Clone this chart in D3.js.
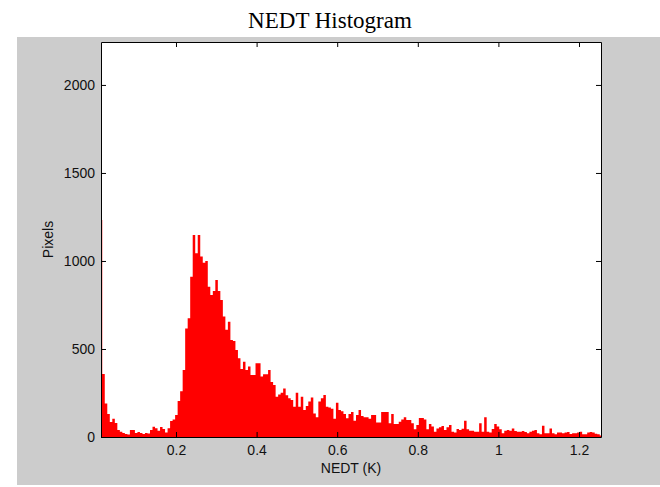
<!DOCTYPE html>
<html>
<head>
<meta charset="utf-8">
<script src="https://cdn.jsdelivr.net/npm/d3@7"></script>
<style>
	body { margin: 0; background: #fff; }
	svg { display: block; }
	.tick text { font-family: "Liberation Sans", Arial, sans-serif; font-size: 14px; fill: #111; }
	.domain { stroke: #000; }
	.tick line { stroke: #000; }
</style>
</head>
<body>
<svg width="660" height="487"></svg>
<script>
// histogram of NEDT values, 200 bins, centres go from X_MIN to X_MAX
const X_MIN = 0.0139;
const X_MAX = 1.2546;
const Y_MAX = 2244;

const counts = [
	1233, 358, 190, 130, 85, 104, 80, 40, 30, 23,
	17, 14, 40, 40, 23, 28, 23, 17, 23, 20,
	40, 58, 50, 35, 57, 45, 25, 50, 91, 100,
	125, 204, 260, 380, 617, 674, 910, 1148, 1044, 1148,
	1025, 990, 1000, 854, 807, 830, 892, 830, 778, 684,
	610, 655, 551, 545, 494, 447, 386, 428, 380, 400,
	352, 352, 419, 419, 343, 356, 356, 381, 313, 295,
	229, 242, 252, 276, 237, 220, 210, 172, 252, 172,
	229, 153, 176, 201, 225, 134, 112, 201, 220, 239,
	172, 167, 161, 104, 195, 153, 146, 131, 106, 131,
	142, 93, 125, 153, 119, 112, 112, 104, 125, 125,
	83, 83, 142, 142, 142, 78, 131, 74, 74, 87,
	100, 112, 97, 97, 78, 44, 68, 108, 108, 100,
	44, 74, 59, 30, 49, 55, 63, 40, 55, 68,
	30, 25, 45, 40, 47, 93, 44, 36, 36, 30,
	30, 78, 30, 112, 30, 25, 45, 74, 60, 44,
	21, 36, 40, 36, 49, 34, 30, 30, 34, 28,
	21, 30, 36, 40, 21, 15, 64, 21, 21, 49,
	21, 15, 25, 25, 21, 25, 28, 17, 21, 21,
	25, 30, 15, 15, 25, 28, 25, 19, 15, 9
];

const xTicks = [0.2, 0.4, 0.6, 0.8, 1, 1.2];
const yTicks = [0, 500, 1000, 1500, 2000];

const title = "NEDT Histogram";
const xLabel = "NEDT (K)";
const yLabel = "Pixels";

var svg = d3.select("svg");
var margin = { left: 101, right: 59, top: 42, bottom: 50 };
var width = +svg.attr("width") - margin.left - margin.right;
var height = +svg.attr("height") - margin.top - margin.bottom;

// figure background
svg.append("rect")
	.attr("x", 17)
	.attr("y", 37)
	.attr("width", 660 - 17)
	.attr("height", 485 - 37)
	.attr("fill", "#cccccc");

svg.append("text")
	.attr("x", 330)
	.attr("y", 28)
	.attr("text-anchor", "middle")
	.style("font-family", "'Liberation Serif', 'Times New Roman', serif")
	.style("font-size", "23px")
	.attr("fill", "#000")
	.text(title);

var x = d3.scaleLinear().domain([X_MIN, X_MAX]).range([0, width]);
var y = d3.scaleLinear().domain([0, Y_MAX]).range([height, 0]);

var g = svg.append("g")
	.attr("transform", "translate(" + margin.left + "," + margin.top + ")");

g.append("rect")
	.attr("width", width)
	.attr("height", height)
	.attr("fill", "#ffffff");

g.append("clipPath")
	.attr("id", "plot-clip")
	.append("rect")
	.attr("width", width)
	.attr("height", height);

// bars are centred on their bin, so edges sit half a bin either side
var binWidth = (X_MAX - X_MIN) / (counts.length - 1);
var steps = counts.map(function(c, i) {
	return { x0: X_MIN + (i - 0.5) * binWidth, v: c };
});
steps.push({ x0: X_MIN + (counts.length - 0.5) * binWidth, v: counts[counts.length - 1] });

var area = d3.area()
	.curve(d3.curveStepAfter)
	.x(function(d) { return x(d.x0); })
	.y0(y(0))
	.y1(function(d) { return y(d.v); });

g.append("path")
	.datum(steps)
	.attr("clip-path", "url(#plot-clip)")
	.attr("fill", "#ff0000")
	.attr("stroke", "none")
	.attr("d", area);

// axes, ticks pointing inwards on all four sides
g.append("g")
	.attr("transform", "translate(0," + height + ")")
	.call(d3.axisBottom(x).tickValues(xTicks).tickSize(-5).tickSizeOuter(0).tickPadding(8).tickFormat(d3.format("")));

g.append("g")
	.call(d3.axisTop(x).tickValues(xTicks).tickSize(-5).tickSizeOuter(0).tickFormat(""));

g.append("g")
	.call(d3.axisLeft(y).tickValues(yTicks).tickSize(-5).tickSizeOuter(0).tickPadding(6).tickFormat(d3.format("")));

g.append("g")
	.attr("transform", "translate(" + width + ",0)")
	.call(d3.axisRight(y).tickValues(yTicks).tickSize(-5).tickSizeOuter(0).tickFormat(""));

g.selectAll(".tick line").attr("stroke-width", 1);

g.append("text")
	.attr("x", width / 2)
	.attr("y", height + 36)
	.attr("text-anchor", "middle")
	.style("font-family", "'Liberation Sans', Arial, sans-serif")
	.style("font-size", "14px")
	.attr("fill", "#111")
	.text(xLabel);

g.append("text")
	.attr("transform", "translate(" + (-48) + "," + (height / 2) + ") rotate(-90)")
	.attr("text-anchor", "middle")
	.style("font-family", "'Liberation Sans', Arial, sans-serif")
	.style("font-size", "14px")
	.attr("fill", "#111")
	.text(yLabel);
</script>
</body>
</html>
